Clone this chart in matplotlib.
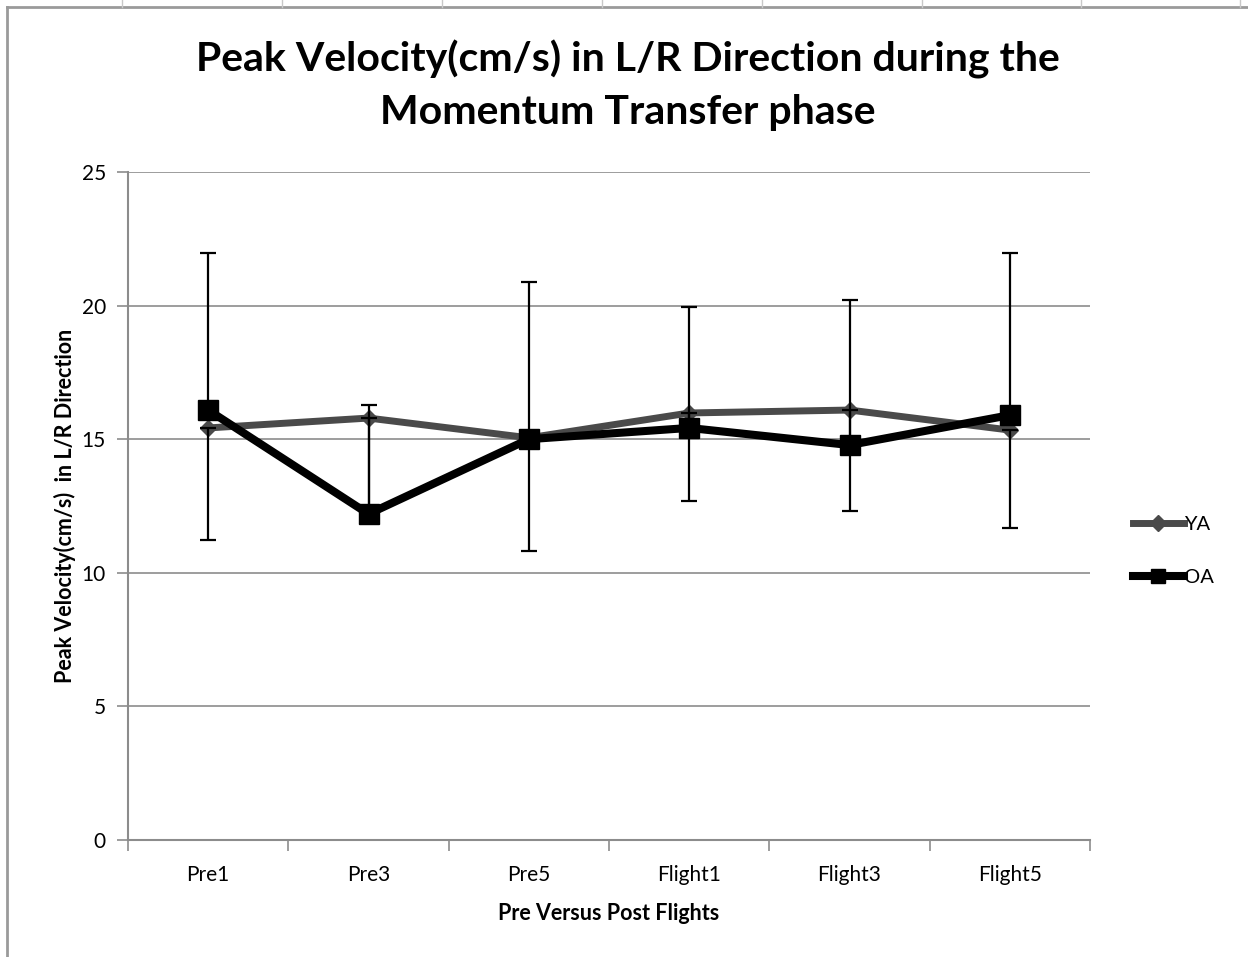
import matplotlib
matplotlib.use("Agg")
import matplotlib.pyplot as plt
from matplotlib.lines import Line2D
import numpy as np

plt.rcParams["font.family"] = ["Lato", "DejaVu Sans"]

# ---- data ----
sessions = ["Pre1", "Pre3", "Pre5", "Flight1", "Flight3", "Flight5"]
ya = [15.42, 15.79, 15.05, 15.98, 16.09, 15.34]
oa = [16.09, 12.20, 15.00, 15.42, 14.78, 15.90]
ya_err_low = [4.19, 3.50, 4.23, 3.29, 3.78, 3.66]    # YA: minus bars only
oa_err_high = [5.88, 4.08, 5.88, 4.53, 5.42, 6.07]   # OA: plus bars only

YA_C = "#4a4a4a"
OA_C = "#000000"
GRID = "#8c8c8c"

fig = plt.figure(figsize=(12.48, 9.57), dpi=100)
ax = fig.add_axes([0.1026, 0.1223, 0.7708, 0.698])

x = np.arange(len(sessions)) + 0.5
zeros = np.zeros(len(sessions))

ax.plot(x, ya, color=YA_C, lw=5, marker="D", ms=8, mfc=YA_C, mec=YA_C, zorder=3)
ax.errorbar(x, ya, yerr=[ya_err_low, zeros], fmt="none", ecolor="black",
            elinewidth=1.6, capsize=6, capthick=1.6, zorder=4)
ax.plot(x, oa, color=OA_C, lw=5.8, marker="s", ms=15, mfc=OA_C, mec=OA_C, zorder=5)
ax.errorbar(x, oa, yerr=[zeros, oa_err_high], fmt="none", ecolor="black",
            elinewidth=1.6, capsize=6, capthick=1.6, zorder=4)

ax.set_xlim(0, len(sessions))
ax.set_ylim(0, 25)
ax.set_yticks(np.arange(0, 26, 5))
ax.yaxis.grid(True, color=GRID, lw=1.2)
ax.set_axisbelow(True)

ax.set_xticks(np.arange(0, len(sessions) + 1))
ax.set_xticklabels([])
ax.set_xticks(x, minor=True)
ax.set_xticklabels(sessions, minor=True)
ax.tick_params(axis="x", which="major", length=8, color=GRID, width=1.2)
ax.tick_params(axis="x", which="minor", length=0, pad=18, labelsize=15)
ax.tick_params(axis="y", length=8, color=GRID, width=1.2, labelsize=15, pad=8)

for s in ["top", "right"]:
    ax.spines[s].set_visible(False)
for s in ["left", "bottom"]:
    ax.spines[s].set_color(GRID)
    ax.spines[s].set_linewidth(1.5)

ax.set_xlabel("Pre Versus Post Flights", fontsize=15.5, fontweight="bold", labelpad=13)
ax.set_ylabel("Peak Velocity(cm/s)  in L/R Direction", fontsize=15.5, fontweight="bold", labelpad=4)

fig.text(0.503, 0.911, "Peak Velocity(cm/s) in L/R Direction during the\nMomentum Transfer phase",
         ha="center", va="center", fontsize=29.5, fontweight="bold", linespacing=1.5)

handles = [
    Line2D([], [], color=YA_C, lw=5, marker="D", ms=8),
    Line2D([], [], color=OA_C, lw=5.8, marker="s", ms=10),
]
fig.legend(handles, ["YA", "OA"], loc="center left", bbox_to_anchor=(0.893, 0.424),
           frameon=False, fontsize=14.5, handlelength=2.55, handletextpad=0.0,
           labelspacing=1.8, markerscale=1.0)

# spreadsheet frame around the chart
fig.add_artist(Line2D([0.006, 0.006], [0, 0.993], color="#9a9a9a", lw=2, transform=fig.transFigure))
fig.add_artist(Line2D([0.006, 1], [0.993, 0.993], color="#9a9a9a", lw=2, transform=fig.transFigure))
for tx in [122, 282, 442, 602, 762, 922, 1081, 1240]:
    fig.add_artist(Line2D([tx / 1248, tx / 1248], [0.993, 1], color="#c8c8c8", lw=1,
                          transform=fig.transFigure))

fig.savefig("out.png", dpi=100)
